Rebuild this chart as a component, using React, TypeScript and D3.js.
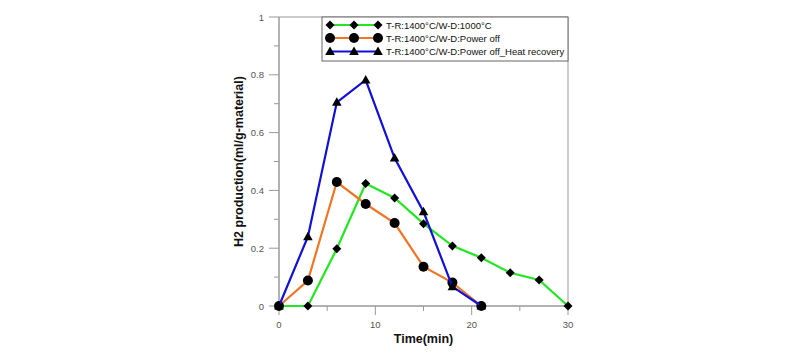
import React from "react";
import * as d3 from "d3";

const times = [0, 3, 6, 9, 12, 15, 18, 21, 24, 27, 30];
const green = [0, 0, 0.198, 0.424, 0.374, 0.285, 0.208, 0.167, 0.115, 0.09, 0];
const orange = [0, 0.088, 0.429, 0.353, 0.287, 0.136, 0.081, 0];
const blue = [0, 0.24, 0.705, 0.782, 0.512, 0.326, 0.067, 0];
const labels = [
  "T-R:1400°C/W-D:1000°C",
  "T-R:1400°C/W-D:Power off",
  "T-R:1400°C/W-D:Power off_Heat recovery",
];
const xTicks = [0, 10, 20, 30];
const xMinor = [5, 15, 25];
const yTicks = [0, 0.2, 0.4, 0.6, 0.8, 1];
const yMinor = [0.1, 0.3, 0.5, 0.7, 0.9];

const W = 800, H = 355;
const left = 279, right = 568, top = 17, bottom = 306;

function Marker({ kind, x, y }: { kind: string; x: number; y: number }) {
  if (kind === "diamond")
    return <path d={`M${x},${y - 4.5}L${x + 4.5},${y}L${x},${y + 4.5}L${x - 4.5},${y}Z`} fill="#000" />;
  if (kind === "circle") return <circle cx={x} cy={y} r={5} fill="#000" />;
  return <path d={`M${x},${y - 5}L${x + 4.8},${y + 3.5}L${x - 4.8},${y + 3.5}Z`} fill="#000" />;
}

export default function App() {
  const x = d3.scaleLinear().domain([0, 30]).range([left, right]);
  const y = d3.scaleLinear().domain([0, 1]).range([bottom, top]);
  const series = [
    { vals: green, color: "#22e622", kind: "diamond" },
    { vals: orange, color: "#f07524", kind: "circle" },
    { vals: blue, color: "#1010d8", kind: "triangle" },
  ];
  const line = d3
    .line<number>()
    .x((_, i) => x(times[i]))
    .y((d) => y(d));
  const font = "Liberation Sans, Arial, sans-serif";
  const axisCol = "#999";
  const legY = [25, 38, 51.5];
  return (
    <svg width={W} height={H} style={{ position: "absolute", left: 0, top: 0 }} fontFamily={font}>
      <rect width={W} height={H} fill="#fff" />
      <line x1={left} x2={right} y1={top} y2={top} stroke={axisCol} strokeWidth={1} />
      <line x1={right} x2={right} y1={top} y2={bottom} stroke={axisCol} strokeWidth={1} />
      <line x1={left} x2={right} y1={bottom} y2={bottom} stroke={axisCol} strokeWidth={1.5} />
      <line x1={left} x2={left} y1={top} y2={bottom} stroke={axisCol} strokeWidth={1.5} />
      {xTicks.map((t) => (
        <g key={"xt" + t}>
          <line x1={x(t)} x2={x(t)} y1={bottom} y2={bottom + 9} stroke={axisCol} />
          <text x={x(t)} y={bottom + 22} fontSize={9.5} fill="#555" textAnchor="middle">{t}</text>
        </g>
      ))}
      {xMinor.map((t) => (
        <line key={"xm" + t} x1={x(t)} x2={x(t)} y1={bottom} y2={bottom + 5} stroke={axisCol} />
      ))}
      {yTicks.map((t) => (
        <g key={"yt" + t}>
          <line x1={left - 10} x2={left} y1={y(t)} y2={y(t)} stroke={axisCol} />
          <text x={left - 15} y={y(t) + 3.5} fontSize={9.5} fill="#555" textAnchor="end">{t}</text>
        </g>
      ))}
      {yMinor.map((t) => (
        <line key={"ym" + t} x1={left - 5} x2={left} y1={y(t)} y2={y(t)} stroke={axisCol} />
      ))}
      <text x={x(15)} y={343} fontSize={12.5} fontWeight="bold" textAnchor="middle" fill="#111">Time(min)</text>
      <text transform={`translate(243,${y(0.5)}) rotate(-90)`} fontSize={12.5} fontWeight="bold" textAnchor="middle" fill="#111">
        H2 production(ml/g-material)
      </text>
      {series.map((s, si) => (
        <g key={si}>
          <path d={line(s.vals) || ""} fill="none" stroke={s.color} strokeWidth={2.2} />
          {s.vals.map((v, i) => (
            <Marker key={i} kind={s.kind} x={x(times[i])} y={y(v)} />
          ))}
        </g>
      ))}
      <rect x={322} y={top} width={right - 322} height={44} fill="#fff" stroke="#666" strokeWidth={1} />
      {series.map((s, i) => (
        <g key={"lg" + i}>
          <line x1={330} x2={378} y1={legY[i]} y2={legY[i]} stroke={s.color} strokeWidth={2.2} />
          {[330, 354, 378].map((mx) => (
            <Marker key={mx} kind={s.kind} x={mx} y={legY[i]} />
          ))}
          <text x={386} y={legY[i] + 3.5} fontSize={9.5} fill="#111">{labels[i]}</text>
        </g>
      ))}
    </svg>
  );
}
